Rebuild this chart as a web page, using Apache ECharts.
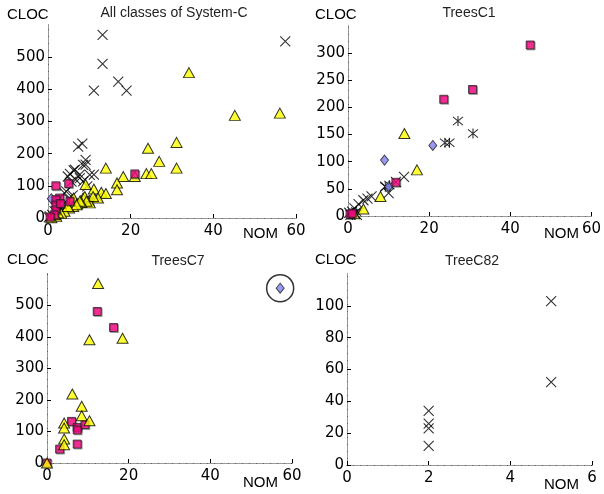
<!DOCTYPE html>
<html>
<head>
<meta charset="utf-8">
<script src="https://cdn.jsdelivr.net/npm/echarts@6/dist/echarts.min.js"></script>
<style>
  html, body { margin: 0; padding: 0; background: #fff; }
  #chart { width: 604px; height: 494px; }
</style>
</head>
<body>
<div id="chart"></div>
<script>
// ---- Panel titles and axis names ----
const panelTitles = ['All classes of System-C', 'TreesC1', 'TreesC7', 'TreeC82'];
const yName = 'CLOC';
const xName = 'NOM';

// ---- Axis ranges ----
const xMaxes = [60, 60, 60, 6];
const xSteps = [20, 20, 20, 2];
const yMaxes = [600, 350, 600, 120];
const ySteps = [100, 50, 100, 20];

// ---- All classes of System-C (NOM, CLOC) ----
const allCross = [[13.2,569],[13.2,479],[57.4,549],[11.1,396],[17.0,424],[19.0,396],[8.3,231],[7.3,222],
  [9.1,181],[9.1,166],[11.1,135],[6.2,148],[7.7,135],[4.8,129],[8.5,114],[6.7,119],[9.5,98],[4.4,83],
  [5.3,137],[6.5,150],[8.5,165],[7.7,124],[10.1,134],[4.0,77],[5.7,113],[3.2,36],[1.6,21],[0.4,5],
  [2.5,40],[5.0,60],[6.0,70],[1.0,10],[10.0,55],[7.0,45],[3.0,30],[12.0,65],[0.2,2]];
const allStar = [[9.0,57],[10.0,50],[2.0,8]];
const allTri = [[34.1,452],[45.2,319],[56.1,326],[24.2,217],[31.1,235],[26.9,176],[31.1,155],[14.0,155],
  [23.8,138],[25.0,138],[18.2,129],[21.0,129],[16.7,109],[16.7,88],[11.1,90],[9.1,104],[12.9,80],[14.0,76],
  [12.1,62],[10.1,47],[8.5,62],[6.2,62],[10.9,67],[8.9,67],[9.3,52],[8.1,48],[7.1,44],[6.1,36],[5.1,31],
  [4.0,21],[3.2,15],[2.0,5],[0.8,1],[7.7,52],[6.9,41],[4.8,36],[2.4,16],[1.6,10]];
const allSq = [[1.9,100],[5.0,107],[21.0,137],[2.8,62],[1.9,57],[1.9,40],[1.9,25],[5.3,52],[1.5,10],[3.0,45],[0.5,3]];
const allDia = [[0.8,60],[10.0,55]];

// ---- TreesC1 ----
const c1Cross = [[13.8,72],[11.8,63],[10.0,42],[5.8,36],[3.8,29],[2.6,22],[1.6,14],[1.0,8],[0.6,2],[9.2,54],
  [4.8,32],[1.8,4],[2.2,2],[0.3,6]];
const c1Star = [[27.1,175],[30.8,152],[23.9,135],[25.0,135],[9.2,54],[10.2,57],[1.2,5],[2.0,8]];
const c1Tri = [[13.9,152],[17.0,85],[8.0,36],[3.8,13],[1.5,4]];
const c1Sq = [[44.9,315],[30.7,233],[23.6,215],[11.8,62],[0.5,3],[1.0,5]];
const c1Dia = [[9.0,103],[20.9,130],[10.0,54]];

// ---- TreesC7 ----
const c7Sq = [[12.3,481],[16.3,430],[6.0,132],[7.4,113],[7.4,105],[9.3,122],[7.4,60],[3.1,44],[0,0]];
const c7Tri = [[12.5,570],[10.4,391],[18.5,396],[6.2,219],[8.5,180],[8.5,150],[10.4,134],[4.2,127],
  [4.2,111],[4.2,76],[4.2,58],[0,0]];
const c7Dia = [[57.1,555]];

// ---- TreeC82 ----
const c82Cross = [[2,34],[2,26],[2,23],[2,12],[5,103],[5,52]];

// ---- Layout of the four plot boxes ----
const grids = [
  { left: 48, top: 25, width: 248, height: 193 },
  { left: 348, top: 26, width: 249, height: 190 },
  { left: 47, top: 274, width: 245, height: 189 },
  { left: 347, top: 274, width: 245, height: 191 }
];

const FONT = 'Liberation Sans, Arial, sans-serif';
const TICK_FONT = 'DejaVu Sans, sans-serif';
const CROSS = 'path://M0,0L10,10M10,0L0,10';
const STAR = 'path://M0,0L10,10M10,0L0,10M5,-1L5,11';

const xAxes = [], yAxes = [];
grids.forEach((g, i) => {
  xAxes.push({
    gridIndex: i, type: 'value', min: 0, max: xMaxes[i], interval: xSteps[i],
    axisLine: { show: true, lineStyle: { color: '#000', width: 1 } },
    axisTick: { show: true, inside: true, length: 4, lineStyle: { color: '#000' } },
    axisLabel: { color: '#000', fontSize: 15, fontFamily: TICK_FONT, margin: 6 },
    splitLine: { show: false }
  });
  yAxes.push({
    gridIndex: i, type: 'value', min: 0, max: yMaxes[i], interval: ySteps[i],
    axisLine: { show: true, lineStyle: { color: '#000', width: 1 } },
    axisTick: { show: true, inside: true, length: 4, lineStyle: { color: '#000' } },
    axisLabel: { color: '#000', fontSize: 15, fontFamily: TICK_FONT, margin: 3, showMaxLabel: false },
    splitLine: { show: false }
  });
});
// dashed frame on the top and right of each box
grids.forEach((g, i) => {
  xAxes.push({
    gridIndex: i, type: 'value', position: 'top', min: 0, max: xMaxes[i], interval: xSteps[i],
    axisLine: { show: true, lineStyle: { color: '#999', width: 1, type: [6, 1] } },
    axisTick: { show: false }, axisLabel: { show: false }, splitLine: { show: false }
  });
  yAxes.push({
    gridIndex: i, type: 'value', position: 'right', min: 0, max: yMaxes[i], interval: ySteps[i],
    axisLine: { show: true, lineStyle: { color: '#999', width: 1, type: [6, 1] } },
    axisTick: { show: false }, axisLabel: { show: false }, splitLine: { show: false }
  });
});

function crossSeries(data, i, sym) {
  return {
    type: 'scatter', xAxisIndex: i, yAxisIndex: i, data: data, symbol: sym || CROSS,
    symbolSize: 10, clip: false, silent: true,
    itemStyle: { color: 'rgba(0,0,0,0)', borderColor: '#000', borderWidth: 1.1 }
  };
}
function triSeries(data, i) {
  return {
    type: 'scatter', xAxisIndex: i, yAxisIndex: i, data: data, symbol: 'triangle',
    symbolSize: [11, 10], clip: false, silent: true,
    itemStyle: { color: '#ffff00', borderColor: '#000', borderWidth: 1 }
  };
}
function sqSeries(data, i) {
  return {
    type: 'scatter', xAxisIndex: i, yAxisIndex: i, data: data, symbol: 'rect',
    symbolSize: 8, clip: false, silent: true,
    itemStyle: { color: '#ff0a88', borderColor: '#222', borderWidth: 1,
      shadowColor: 'rgba(0,0,0,0.35)', shadowBlur: 0, shadowOffsetX: 1, shadowOffsetY: 1 }
  };
}
function diaSeries(data, i) {
  return {
    type: 'scatter', xAxisIndex: i, yAxisIndex: i, data: data, symbol: 'diamond',
    symbolSize: [8, 10], clip: false, silent: true,
    itemStyle: { color: '#8080ee', borderColor: '#222', borderWidth: 1 }
  };
}

const series = [
  crossSeries(allCross, 0), crossSeries(allStar, 0, STAR), diaSeries(allDia, 0), triSeries(allTri, 0), sqSeries(allSq, 0),
  crossSeries(c1Cross, 1), crossSeries(c1Star, 1, STAR), triSeries(c1Tri, 1), diaSeries(c1Dia, 1), sqSeries(c1Sq, 1),
  sqSeries(c7Sq, 2), triSeries(c7Tri, 2), diaSeries(c7Dia, 2),
  // ring highlighting the outlier of TreesC7
  { type: 'scatter', xAxisIndex: 2, yAxisIndex: 2, data: c7Dia, symbol: 'circle', symbolSize: 27,
    clip: false, silent: true, z: 1,
    itemStyle: { color: 'rgba(0,0,0,0)', borderColor: '#000', borderWidth: 1.5 } },
  crossSeries(c82Cross, 3)
];

// text labels: titles, CLOC and NOM per box
const titlePos = [[174, 13], [469, 13], [178, 261], [472, 261]];
const clocPos = [[7, 15], [315, 15], [7, 260], [315, 260]];
const nomPos = [[243, 234], [544, 234], [243, 483], [544, 485]];
const graphic = [];
for (let i = 0; i < 4; i++) {
  graphic.push({ type: 'text', x: titlePos[i][0], y: titlePos[i][1],
    style: { text: panelTitles[i], font: '14px ' + FONT, fill: '#222', align: 'center', verticalAlign: 'middle' } });
  graphic.push({ type: 'text', x: clocPos[i][0], y: clocPos[i][1],
    style: { text: yName, font: '15px ' + FONT, fill: '#000', align: 'left', verticalAlign: 'middle' } });
  graphic.push({ type: 'text', x: nomPos[i][0], y: nomPos[i][1],
    style: { text: xName, font: '15px ' + FONT, fill: '#000', align: 'left', verticalAlign: 'middle' } });
}

const chart = echarts.init(document.getElementById('chart'), null, { renderer: 'canvas' });
chart.setOption({
  animation: false,
  backgroundColor: '#fff',
  grid: grids.map(g => Object.assign({ containLabel: false }, g)),
  xAxis: xAxes,
  yAxis: yAxes,
  series: series,
  graphic: graphic
});
</script>
</body>
</html>
